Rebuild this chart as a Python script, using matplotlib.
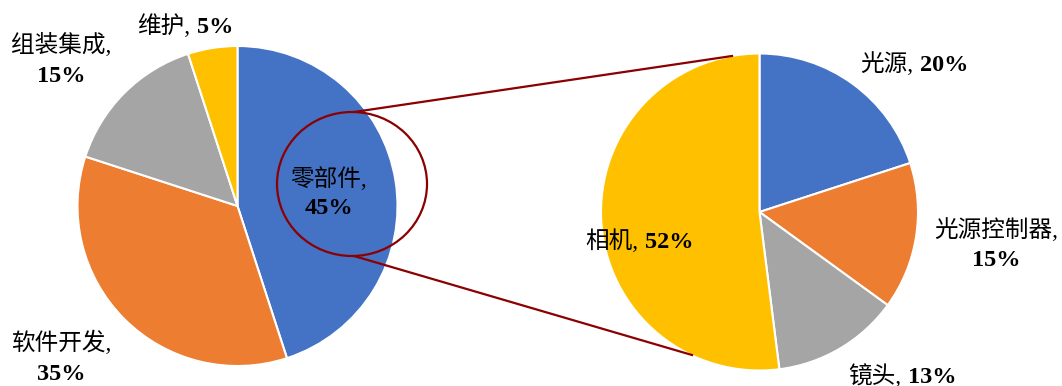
import matplotlib.pyplot as plt
from matplotlib.patches import Ellipse

# composition of the whole system
main_labels = ["零部件", "软件开发", "组装集成", "维护"]
main_values = [45, 35, 15, 5]

# breakdown of the parts slice
part_labels = ["光源", "光源控制器", "镜头", "相机"]
part_values = [20, 15, 13, 52]

colors = ["#4472C4", "#ED7D31", "#A5A5A5", "#FFC000"]
dark_red = "#8B0000"

W, H = 1062, 386
fig = plt.figure(figsize=(W / 100, H / 100), dpi=100)
ax = fig.add_axes([0, 0, 1, 1])

wedge_style = dict(edgecolor="white", linewidth=1.5)
ax.pie(main_values, colors=colors, startangle=90, counterclock=False,
       center=(237.5, H - 206), radius=160, wedgeprops=wedge_style)
ax.pie(part_values, colors=colors, startangle=90, counterclock=False,
       center=(759.5, H - 212), radius=158.5, wedgeprops=wedge_style)

# zoom marker around the parts slice
ax.add_patch(Ellipse((352, H - 184), 150, 144, fill=False,
                     edgecolor=dark_red, linewidth=1.6, zorder=5))
ax.plot([354, 732], [H - 112, H - 56], color=dark_red, lw=1.6, zorder=5)
ax.plot([354, 692], [H - 256, H - 355], color=dark_red, lw=1.6, zorder=5)

ax.set_xlim(0, W)
ax.set_ylim(0, H)
ax.set_axis_off()

cjk_font = dict(family=["Liberation Serif", "Noto Sans CJK SC"], fontsize=17, color="black")
num_font = dict(family="Liberation Serif", fontsize=17.5, weight="bold", color="black")


def label_one_line(x_split, y_base, name, pct):
    ax.text(x_split, H - y_base, name + ",", ha="right", va="baseline", zorder=6, **cjk_font)
    ax.text(x_split + 7, H - y_base, f"{pct}%", ha="left", va="baseline", zorder=6, **num_font)


def label_two_line(x, y1, y2, name, pct):
    ax.text(x, H - y1, name + ",", ha="center", va="baseline", zorder=6, **cjk_font)
    ax.text(x, H - y2, f"{pct}%", ha="center", va="baseline", zorder=6, **num_font)


# left pie labels
label_two_line(329, 186, 214, main_labels[0], main_values[0])
label_two_line(61, 350, 380, main_labels[1], main_values[1])
label_two_line(61, 52, 82, main_labels[2], main_values[2])
label_one_line(190, 33, main_labels[3], main_values[3])

# right pie labels
label_one_line(913, 71, part_labels[0], part_values[0])
label_two_line(996, 237, 266, part_labels[1], part_values[1])
label_one_line(901, 383, part_labels[2], part_values[2])
label_one_line(638, 248, part_labels[3], part_values[3])

fig.savefig("out.png", dpi=100)
